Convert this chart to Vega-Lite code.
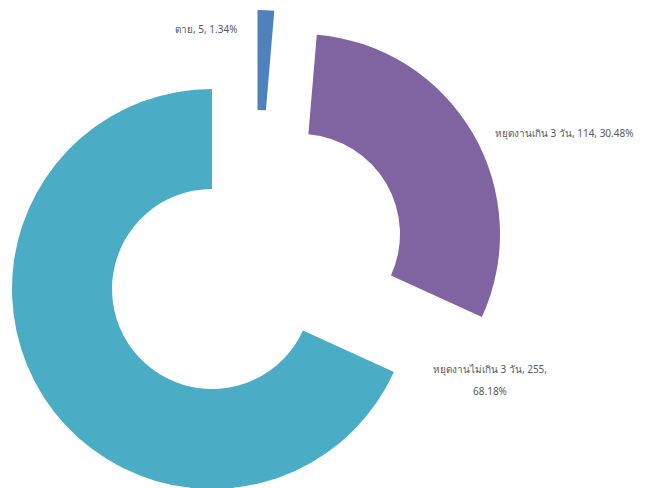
{
  "$schema": "https://vega.github.io/schema/vega-lite/v6.json",
  "width": 647,
  "height": 488,
  "autosize": {"type": "none"},
  "padding": 0,
  "background": "white",
  "view": {"stroke": null},
  "config": {"text": {"font": "Noto Sans", "fontSize": 10, "color": "#595959"}},
  "data": {
    "values": [
      {"category": "ตาย", "value": 5, "label": "ตาย, 5, 1.34%"},
      {"category": "หยุดงานเกิน 3 วัน", "value": 114, "label": "หยุดงานเกิน 3 วัน, 114, 30.48%"},
      {"category": "หยุดงานไม่เกิน 3 วัน", "value": 255, "label": "หยุดงานไม่เกิน  3  วัน, 255,\n68.18%"}
    ]
  },
  "transform": [
    {"stack": "value", "groupby": [], "sort": [{"field": "value", "order": "ascending"}], "as": ["v0", "v1"]}
  ],
  "layer": [
    {
      "transform": [{"filter": "datum.category === 'ตาย'"}],
      "layer": [
        {
          "mark": {"type": "arc", "innerRadius": 100, "outerRadius": 200, "xOffset": -66, "yOffset": -34},
          "encoding": {
            "theta": {"field": "v0", "type": "quantitative", "scale": {"domain": [0, 374]}},
            "theta2": {"field": "v1"},
            "color": {"field": "category", "type": "nominal", "legend": null,
              "scale": {"domain": ["ตาย", "หยุดงานเกิน 3 วัน", "หยุดงานไม่เกิน 3 วัน"], "range": ["#4f81bd", "#8064a2", "#4bacc6"]}}
          }
        },
        {
          "mark": {"type": "text", "align": "right", "baseline": "middle", "xOffset": -66, "yOffset": -34, "dx": -20, "dy": -180},
          "encoding": {"text": {"field": "label"}}
        }
      ]
    },
    {
      "transform": [{"filter": "datum.category === 'หยุดงานเกิน 3 วัน'"}],
      "layer": [
        {
          "mark": {"type": "arc", "innerRadius": 100, "outerRadius": 200, "xOffset": -23.5, "yOffset": -10},
          "encoding": {
            "theta": {"field": "v0", "type": "quantitative", "scale": {"domain": [0, 374]}},
            "theta2": {"field": "v1"},
            "color": {"field": "category", "type": "nominal", "legend": null}
          }
        },
        {
          "mark": {"type": "text", "align": "left", "baseline": "middle", "xOffset": -23.5, "yOffset": -10, "dx": 195, "dy": -100},
          "encoding": {"text": {"field": "label"}}
        }
      ]
    },
    {
      "transform": [{"filter": "datum.category === 'หยุดงานไม่เกิน 3 วัน'"}],
      "layer": [
        {
          "mark": {"type": "arc", "innerRadius": 100, "outerRadius": 200, "xOffset": -111.5, "yOffset": 45},
          "encoding": {
            "theta": {"field": "v0", "type": "quantitative", "scale": {"domain": [0, 374]}},
            "theta2": {"field": "v1"},
            "color": {"field": "category", "type": "nominal", "legend": null}
          }
        },
        {
          "mark": {"type": "text", "align": "center", "baseline": "middle", "lineBreak": "\n", "lineHeight": 22, "xOffset": -111.5, "yOffset": 45, "dx": 278, "dy": 81},
          "encoding": {"text": {"field": "label"}}
        }
      ]
    }
  ]
}
